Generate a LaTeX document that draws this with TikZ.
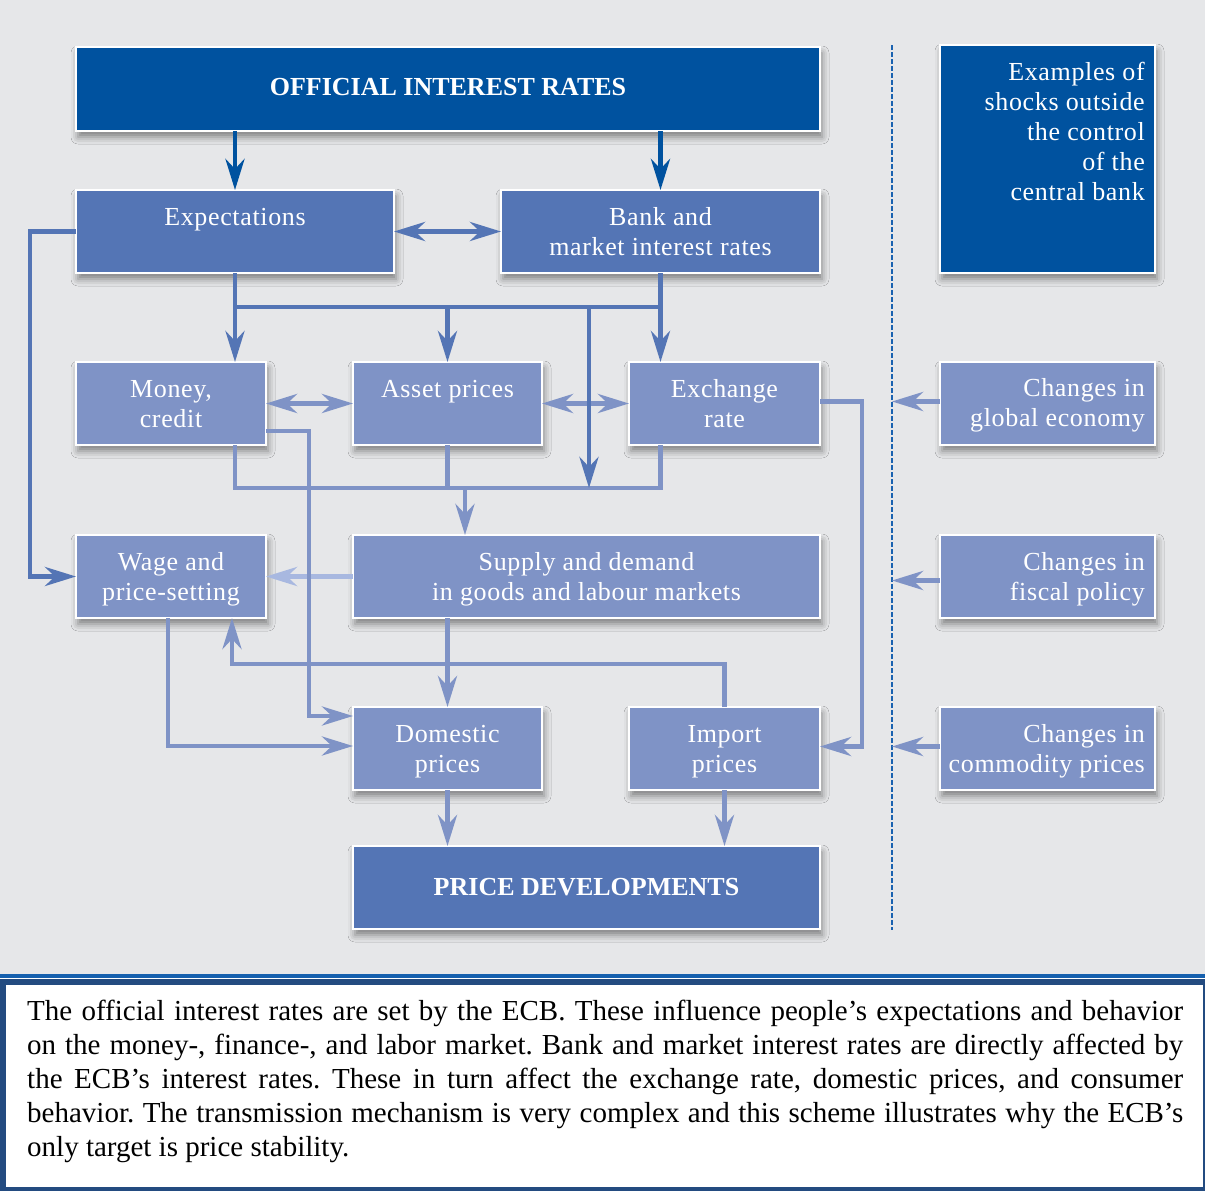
\documentclass[tikz,border=0pt]{standalone}
\usepackage{fontspec}
\setmainfont{Liberation Serif}
\newfontfamily\boxfont[LetterSpace=2.5]{Liberation Serif}
\usetikzlibrary{arrows.meta,shadows.blur}
\definecolor{dkblue}{HTML}{00529F}
\definecolor{mdblue}{HTML}{5475B5}
\definecolor{ltblue}{HTML}{7F93C6}
\definecolor{vlblue}{HTML}{A8B8E0}
\definecolor{bggray}{HTML}{E6E7E9}
\definecolor{dashblue}{HTML}{1A62B0}
\definecolor{capframe}{HTML}{234B80}
\definecolor{capline}{HTML}{1560AE}
\newcommand\boxfnt{\boxfont\fontsize{26pt}{30pt}\selectfont}
\newcommand\boldfnt{\fontsize{26pt}{30pt}\selectfont\bfseries}
\newcommand\capfnt{\fontsize{29pt}{34pt}\selectfont\frenchspacing}
\begin{document}
\begin{tikzpicture}[x=1pt,y=-1pt,
  box/.style={draw=white, line width=1.3pt, inner sep=0pt, outer sep=0pt, anchor=north west,
    blur shadow={shadow xshift=2pt, shadow yshift=-6pt, shadow blur radius=7pt, shadow opacity=45}},
  txt/.style={text=white, inner sep=0pt, align=center, font=\boxfnt},
  arr/.style={-{Stealth[length=31pt,width=19pt,inset=10pt]}},
  conn/.style={line width=4.8pt, arr},
  dconn/.style={line width=4.8pt, {Stealth[length=31pt,width=19pt,inset=10pt]}-{Stealth[length=31pt,width=19pt,inset=10pt]}},
  plain/.style={line width=4.8pt}
]
\useasboundingbox (0,0) rectangle (1205,1191);
% backgrounds
\fill[bggray] (0,0) rectangle (1205,975);
\fill[capline] (0,974) rectangle (1205,977.5);
\fill[capframe] (0,979) rectangle (1205,1191);
\fill[white] (6,985) rectangle (1202.5,1187);

% boxes
\node[box, fill=dkblue, minimum width=744pt, minimum height=84pt] (off) at (76,47) {};
\node[box, fill=dkblue, minimum width=215pt, minimum height=228pt] (ex) at (940,45) {};
\node[box, fill=mdblue, minimum width=318pt, minimum height=83pt] (exp) at (76,190) {};
\node[box, fill=mdblue, minimum width=319pt, minimum height=83pt] (bank) at (501,190) {};
\node[box, fill=ltblue, minimum width=190pt, minimum height=83pt] (money) at (76,362) {};
\node[box, fill=ltblue, minimum width=189pt, minimum height=83pt] (asset) at (353,362) {};
\node[box, fill=ltblue, minimum width=191pt, minimum height=83pt] (exch) at (629,362) {};
\node[box, fill=ltblue, minimum width=190pt, minimum height=83pt] (wage) at (76,535) {};
\node[box, fill=ltblue, minimum width=467pt, minimum height=83pt] (supply) at (353,535) {};
\node[box, fill=ltblue, minimum width=189pt, minimum height=83pt] (dom) at (353,707) {};
\node[box, fill=ltblue, minimum width=191pt, minimum height=83pt] (imp) at (629,707) {};
\node[box, fill=mdblue, minimum width=467pt, minimum height=83pt] (price) at (353,846) {};
\node[box, fill=ltblue, minimum width=215pt, minimum height=83pt] (glob) at (940,362) {};
\node[box, fill=ltblue, minimum width=215pt, minimum height=83pt] (fisc) at (940,535) {};
\node[box, fill=ltblue, minimum width=215pt, minimum height=83pt] (comm) at (940,707) {};

% texts
\node[txt, font=\boldfnt, anchor=base] (offT) at ([yshift=-6pt]off.center) {OFFICIAL INTEREST RATES};
\node[txt, font=\boldfnt, anchor=base] (priceT) at ([yshift=-7.5pt]price.center) {PRICE DEVELOPMENTS};
\node[txt, anchor=north] (expT) at ([yshift=-14pt]exp.north) {\strut Expectations};
\node[txt, anchor=north] (bankT) at ([yshift=-14pt]bank.north) {\strut Bank and\\\strut market interest rates};
\node[txt, anchor=north] (moneyT) at ([yshift=-14pt]money.north) {\strut Money,\\\strut credit};
\node[txt, anchor=north] (assetT) at ([yshift=-14pt]asset.north) {\strut Asset prices};
\node[txt, anchor=north] (exchT) at ([yshift=-14pt]exch.north) {\strut Exchange\\\strut rate};
\node[txt, anchor=north] (wageT) at ([yshift=-14pt]wage.north) {\strut Wage and\\\strut price-setting};
\node[txt, anchor=north] (supplyT) at ([yshift=-14pt]supply.north) {\strut Supply and demand\\\strut in goods and labour markets};
\node[txt, anchor=north] (domT) at ([yshift=-14pt]dom.north) {\strut Domestic\\\strut prices};
\node[txt, anchor=north] (impT) at ([yshift=-14pt]imp.north) {\strut Import\\\strut prices};
\node[txt, align=right, anchor=north east] (exT) at ([xshift=-10pt,yshift=-14pt]ex.north east) {\strut Examples of\\\strut shocks outside\\\strut the control\\\strut of the\\\strut central bank};
\node[txt, align=right, anchor=north east] (globT) at ([xshift=-10pt,yshift=-13pt]glob.north east) {\strut Changes in\\\strut global economy};
\node[txt, align=right, anchor=north east] (fiscT) at ([xshift=-10pt,yshift=-14pt]fisc.north east) {\strut Changes in\\\strut fiscal policy};
\node[txt, align=right, anchor=north east] (commT) at ([xshift=-10pt,yshift=-14pt]comm.north east) {\strut Changes in\\\strut commodity prices};

% helper coordinates
\coordinate (tb) at (0,307);
\coordinate (bb) at (0,488);
\coordinate (mid) at (589,307);
\coordinate (sd) at (465,488);
\coordinate (dtop) at (892,45);
\coordinate (dbot) at (892,930);

% dashed separator
\draw[dashblue, line width=1.4pt, dash pattern=on 5pt off 2pt] (dtop) -- (dbot);

% connectors
\draw[conn, dkblue] (exp.north |- off.south) -- (exp.north);
\draw[conn, dkblue] (bank.north |- off.south) -- (bank.north);
\draw[dconn, mdblue] (exp.east) -- (bank.west);
\draw[conn, mdblue] (exp.west) -- ++(-46,0) |- (wage.west);

\draw[dconn, ltblue] (money.east) -- (asset.west);
\draw[dconn, ltblue] (asset.east) -- (exch.west);

\draw[plain, mdblue] (exp.south) -- (exp.south |- tb) -- (bank.south |- tb) -- (bank.south);
\draw[conn, mdblue] (exp.south |- tb) -- (exp.south |- money.north);
\draw[conn, mdblue] (asset.north |- tb) -- (asset.north);
\draw[conn, mdblue] (bank.south |- tb) -- (bank.south |- exch.north);

\draw[plain, ltblue] (exp.south |- money.south) -- (exp.south |- bb) -- (bank.south |- bb) -- (bank.south |- exch.south);
\draw[plain, ltblue] (asset.south) -- (asset.south |- bb);
\draw[conn, mdblue] (mid) -- (mid |- bb);
\draw[conn, ltblue] (sd) -- (sd |- supply.north);

\draw[conn, vlblue] (supply.west) -- (wage.east);
\draw[conn, ltblue] ([yshift=14pt]money.south east) -- ++(43,0) |- ([yshift=-9pt]dom.north west);
\draw[conn, ltblue] (supply.south -| dom.north) -- (dom.north);
\draw[conn, ltblue] (imp.north) -- ++(0,-43) -| ([xshift=61pt]wage.south);
\draw[conn, ltblue] ([xshift=-3pt]wage.south) |- ([yshift=2.5pt]dom.west);
\draw[conn, ltblue] ([yshift=2pt]exch.east) -- ++(42,0) |- ([yshift=2pt]imp.east);
\draw[conn, ltblue] (dom.south) -- (dom.south |- price.north);
\draw[conn, ltblue] (imp.south) -- (imp.south |- price.north);

\draw[conn, ltblue] ([yshift=2pt]glob.west) -- ([yshift=2pt]glob.west -| dtop);
\draw[conn, ltblue] ([yshift=-4pt]fisc.west) -- ([yshift=-4pt]fisc.west -| dtop);
\draw[conn, ltblue] ([yshift=2pt]comm.west) -- ([yshift=2pt]comm.west -| dtop);

% caption
\node[anchor=north west, inner sep=0pt, text width=1156pt, align=justify, font=\capfnt] (cap) at (27,996.2)
{\tolerance=9999\hyphenpenalty=10000\strut The official interest rates are set by the ECB. These influence people’s expectations and behavior\linebreak
on the money-, finance-, and labor market. Bank and market interest rates are directly affected by\linebreak
the ECB’s interest rates. These in turn affect the exchange rate, domestic prices, and consumer\linebreak
behavior. The transmission mechanism is very complex and this scheme illustrates why the ECB’s\linebreak
only target is price stability.};
\end{tikzpicture}
\end{document}
